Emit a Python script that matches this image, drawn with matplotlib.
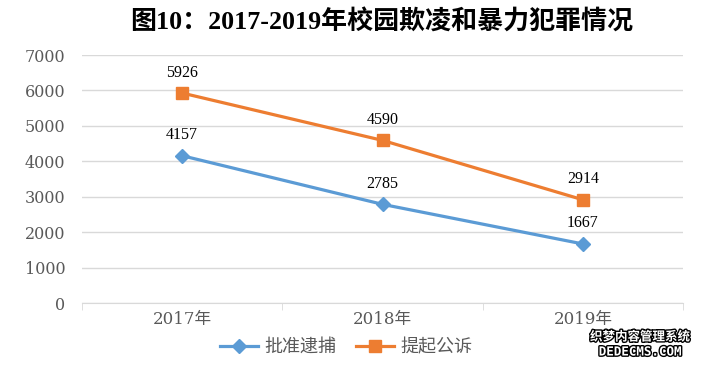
import matplotlib
matplotlib.use('Agg')
import matplotlib.pyplot as plt
import matplotlib.patheffects as pe

years = ['2017年', '2018年', '2019年']
arrests = [4157, 2785, 1667]
prosecutions = [5926, 4590, 2914]

blue = '#5B9BD5'
orange = '#ED7D31'
grid_c = '#D9D9D9'
tick_c = '#595959'

cjk_serif = ['Liberation Serif', 'Noto Sans CJK SC']
cjk_sans = ['DejaVu Serif', 'Noto Sans CJK SC']

fig = plt.figure(figsize=(7.02, 3.65), dpi=100)
ax = fig.add_axes([82 / 702, 1 - 303 / 365, 601 / 702, 248 / 365])

x = range(len(years))
ax.plot(x, arrests, color=blue, lw=2.3, marker='D', ms=7, label='批准逮捕')
ax.plot(x, prosecutions, color=orange, lw=2.3, marker='s', ms=8, label='提起公诉')

for i, v in enumerate(arrests):
    ax.annotate(str(v), (i, v), xytext=(0, 9), textcoords='offset points',
                ha='center', va='bottom', fontsize=11.5, family='Liberation Serif')
for i, v in enumerate(prosecutions):
    ax.annotate(str(v), (i, v), xytext=(0, 9), textcoords='offset points',
                ha='center', va='bottom', fontsize=11.5, family='Liberation Serif')

ax.set_xlim(-0.5, 2.5)
ax.set_ylim(0, 7000)
ax.set_yticks(range(0, 7001, 1000))
ax.yaxis.grid(True, color=grid_c, lw=1)
ax.set_axisbelow(True)
for s in ['top', 'right', 'left']:
    ax.spines[s].set_visible(False)
ax.spines['bottom'].set_color(grid_c)
ax.tick_params(axis='y', length=0, pad=12, labelcolor=tick_c)
ax.set_xticks(list(x))
ax.set_xticklabels(years)
ax.tick_params(axis='x', length=0, pad=6, labelcolor=tick_c)
ax.set_xticks([-0.5, 0.5, 1.5, 2.5], minor=True)
ax.tick_params(axis='x', which='minor', length=5, color=grid_c)
for lab in ax.get_yticklabels():
    lab.set_family(cjk_sans)
    lab.set_fontsize(11.5)
for lab in ax.get_xticklabels():
    lab.set_family(cjk_sans)
    lab.set_fontsize(12)

fig.text(382 / 702, 1 - 22 / 365, '图10：2017-2019年校园欺凌和暴力犯罪情况',
         ha='center', va='center', fontsize=18.7, fontweight='bold', family=cjk_serif)

leg = ax.legend(loc='center', bbox_to_anchor=(0.439, -0.178), ncol=2, frameon=False,
                prop={'family': 'Noto Sans CJK SC', 'size': 13},
                handlelength=2.1, columnspacing=1.1, handletextpad=0.35)
for t in leg.get_texts():
    t.set_color(tick_c)

fig.text(640 / 702, 1 - 337 / 365, '织梦内容管理系统', ha='center', va='center',
         fontsize=9, fontweight='bold', family='Noto Sans CJK SC', color='white',
         path_effects=[pe.withStroke(linewidth=2, foreground='black')])
fig.text(640 / 702, 1 - 352 / 365, 'DEDECMS.COM', ha='center', va='center',
         fontsize=9, fontweight='bold', family='DejaVu Sans Mono', color='white',
         path_effects=[pe.withStroke(linewidth=2, foreground='black')])

fig.savefig('out.png', dpi=100)
